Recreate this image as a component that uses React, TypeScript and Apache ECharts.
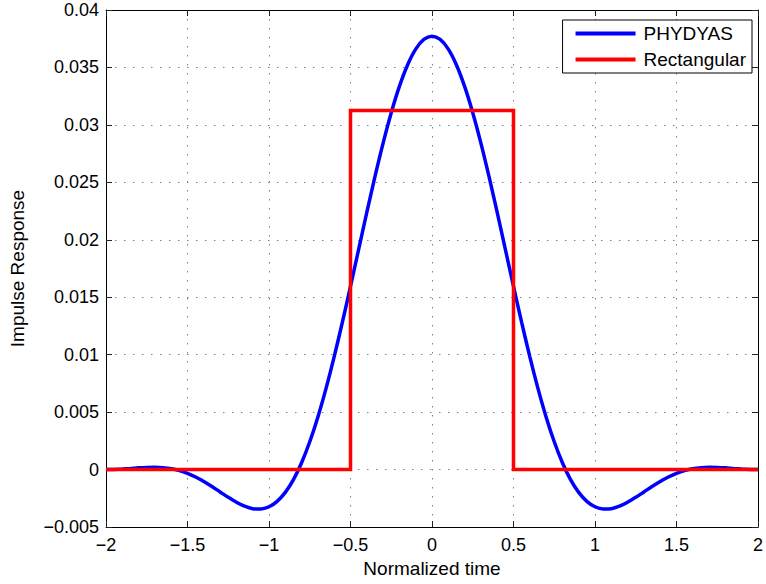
import React, { useEffect, useRef } from "react";
import * as echarts from "echarts";

// Normalized time samples (step 0.05 from -2 to 2)
const timeValues: number[] = [
  -2, -1.95, -1.9, -1.85, -1.8, -1.75, -1.7, -1.65, -1.6, -1.55,
  -1.5, -1.45, -1.4, -1.35, -1.3, -1.25, -1.2, -1.15, -1.1, -1.05,
  -1, -0.95, -0.9, -0.85, -0.8, -0.75, -0.7, -0.65, -0.6, -0.55,
  -0.5, -0.45, -0.4, -0.35, -0.3, -0.25, -0.2, -0.15, -0.1, -0.05,
  0,
  0.05, 0.1, 0.15, 0.2, 0.25, 0.3, 0.35, 0.4, 0.45, 0.5,
  0.55, 0.6, 0.65, 0.7, 0.75, 0.8, 0.85, 0.9, 0.95, 1,
  1.05, 1.1, 1.15, 1.2, 1.25, 1.3, 1.35, 1.4, 1.45, 1.5,
  1.55, 1.6, 1.65, 1.7, 1.75, 1.8, 1.85, 1.9, 1.95, 2,
];

// PHYDYAS impulse response read at each sample
const phydyasValues: number[] = [
  0, 0.0000123, 0.0000466, 0.0000957, 0.000148, 0.000188, 0.0002, 0.000168, 0.0000756, -0.0000876,
  -0.000328, -0.000646, -0.001034, -0.001476, -0.001947, -0.002417, -0.002846, -0.003191, -0.003403, -0.003434,
  -0.003236, -0.002766, -0.001988, -0.000873, 0.000595, 0.002417, 0.004584, 0.007069, 0.009831, 0.012814,
  0.015953, 0.019169, 0.022378, 0.025489, 0.028413, 0.031062, 0.033354, 0.035218, 0.036594, 0.037438,
  0.037722,
  0.037438, 0.036594, 0.035218, 0.033354, 0.031062, 0.028413, 0.025489, 0.022378, 0.019169, 0.015953,
  0.012814, 0.009831, 0.007069, 0.004584, 0.002417, 0.000595, -0.000873, -0.001988, -0.002766, -0.003236,
  -0.003434, -0.003403, -0.003191, -0.002846, -0.002417, -0.001947, -0.001476, -0.001034, -0.000646, -0.000328,
  -0.0000876, 0.0000756, 0.000168, 0.0002, 0.000188, 0.000148, 0.0000957, 0.0000466, 0.0000123, 0,
];

// Rectangular pulse corner points
const rectTimes: number[] = [-2, -0.5, -0.5, 0.5, 0.5, 2];
const rectValues: number[] = [0, 0, 0.03125, 0.03125, 0, 0];

const seriesNames: string[] = ["PHYDYAS", "Rectangular"];

const FONT = "'Liberation Sans', Arial, Helvetica, sans-serif";

const fmtX = (v: number) => {
  const s = String(Math.abs(Number(v.toFixed(2))));
  return v < 0 ? "\u2212" + s : s;
};
const fmtY = (v: number) => {
  const s = String(Math.abs(Number(v.toFixed(4))));
  return v < -1e-12 ? "\u2212" + s : s;
};

export default function App() {
  const ref = useRef<HTMLDivElement>(null);

  useEffect(() => {
    document.body.style.margin = "0";
    if (!ref.current) return;
    const chart = echarts.init(ref.current, null, { renderer: "svg" });

    const gridLine = {
      show: true,
      lineStyle: { color: "#808080", width: 1, type: [1.5, 7.5] as any },
    };
    const tick = { show: true, inside: true, length: 6, lineStyle: { color: "#222", width: 1 } };
    const axisLine = { show: true, onZero: false, lineStyle: { color: "#000", width: 1 } };

    chart.setOption({
      animation: false,
      backgroundColor: "#fff",
      textStyle: { fontFamily: FONT },
      grid: { left: 106, top: 10, right: 5, bottom: 57, containLabel: false },
      legend: {
        data: seriesNames,
        orient: "vertical",
        right: 14,
        top: 20,
        icon: "rect",
        itemWidth: 60,
        itemHeight: 4,
        itemGap: 7,
        padding: [4, 6, 4, 13],
        borderColor: "#000",
        borderWidth: 1,
        backgroundColor: "#fff",
        textStyle: { fontSize: 19, color: "#000", fontFamily: FONT, padding: [0, 0, 0, 3] },
      },
      xAxis: [
        {
          type: "value",
          min: -2,
          max: 2,
          interval: 0.5,
          position: "bottom",
          name: "Normalized time",
          nameLocation: "middle",
          nameGap: 31,
          nameTextStyle: { fontSize: 19, color: "#000", fontFamily: FONT },
          axisLine,
          axisTick: tick,
          axisLabel: { fontSize: 18, color: "#000", margin: 9, formatter: fmtX, fontFamily: FONT },
          splitLine: gridLine,
        },
        {
          type: "value",
          min: -2,
          max: 2,
          interval: 0.5,
          position: "top",
          axisLine,
          axisTick: tick,
          axisLabel: { show: false },
          splitLine: { show: false },
        },
      ],
      yAxis: [
        {
          type: "value",
          min: -0.005,
          max: 0.04,
          interval: 0.005,
          position: "left",
          name: "Impulse Response",
          nameLocation: "middle",
          nameGap: 79,
          nameRotate: 90,
          nameTextStyle: { fontSize: 19, color: "#000", fontFamily: FONT },
          axisLine,
          axisTick: tick,
          axisLabel: { fontSize: 18, color: "#000", margin: 7, formatter: fmtY, fontFamily: FONT },
          splitLine: gridLine,
        },
        {
          type: "value",
          min: -0.005,
          max: 0.04,
          interval: 0.005,
          position: "right",
          axisLine,
          axisTick: tick,
          axisLabel: { show: false },
          splitLine: { show: false },
        },
      ],
      series: [
        {
          name: seriesNames[0],
          type: "line",
          xAxisIndex: 0,
          yAxisIndex: 0,
          data: timeValues.map((t, i) => [t, phydyasValues[i]]),
          showSymbol: false,
          smooth: 0.3,
          color: "#0000FF",
          lineStyle: { color: "#0000FF", width: 3.5 },
          itemStyle: { color: "#0000FF" },
        },
        {
          name: seriesNames[1],
          type: "line",
          xAxisIndex: 0,
          yAxisIndex: 0,
          data: rectTimes.map((t, i) => [t, rectValues[i]]),
          showSymbol: false,
          color: "#FF0000",
          lineStyle: { color: "#FF0000", width: 3.5, join: "miter" },
          itemStyle: { color: "#FF0000" },
        },
      ],
    });

    return () => chart.dispose();
  }, []);

  return <div ref={ref} style={{ width: 766, height: 584 }} />;
}
